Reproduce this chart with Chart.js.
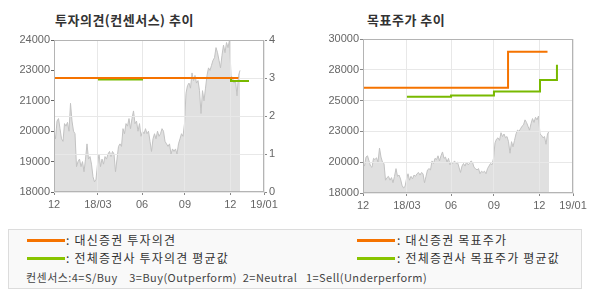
<!DOCTYPE html>
<html><head><meta charset="utf-8">
<script src="https://cdn.jsdelivr.net/npm/chart.js@4.4.1/dist/chart.umd.min.js"></script>
<style>
html,body{margin:0;padding:0;background:#fff;width:590px;height:300px;overflow:hidden;font-family:"Noto Sans CJK KR","Noto Sans",sans-serif;}
.title{position:absolute;top:11px;font-size:13px;font-weight:bold;color:#333;line-height:18px;white-space:nowrap;letter-spacing:0.5px;}
canvas{position:absolute;}
#legend{position:absolute;left:8px;top:229px;width:572px;height:58px;border:1px solid #dcdcdc;background:#f9f9f9;}
.bar{position:absolute;height:3px;width:38px;}
.lt{position:absolute;font-size:12px;color:#333;line-height:14px;white-space:pre;letter-spacing:1.2px;}
.cons{position:absolute;left:26px;top:270px;font-size:11px;color:#444;line-height:14px;white-space:pre;letter-spacing:0.45px;}
</style></head>
<body>
<div class="title" style="left:55px">투자의견(컨센서스) 추이</div>
<div class="title" style="left:367px">목표주가 추이</div>
<canvas id="c1" width="295" height="185" style="left:0;top:30px"></canvas>
<canvas id="c2" width="295" height="185" style="left:295px;top:30px"></canvas>
<div id="legend"></div>
<div class="bar" id="b1" style="left:27px;top:239px"></div>
<div class="lt" id="t1" style="left:66px;top:233px"></div>
<div class="bar" id="b2" style="left:27px;top:257px"></div>
<div class="lt" id="t2" style="left:66px;top:251px"></div>
<div class="bar" id="b3" style="left:357px;top:239px"></div>
<div class="lt" id="t3" style="left:397px;top:233px"></div>
<div class="bar" id="b4" style="left:357px;top:257px"></div>
<div class="lt" id="t4" style="left:397px;top:251px"></div>
<div class="cons" id="cons"></div>
<script>
// ---- data ----
const xTickPos = [0, 29.3, 58.7, 87.3, 117.5, 140];
const xTickLabels = ['12', '18/03', '06', '09', '12', '19/01'];
const priceTickLabelsL = ['18000', '19000', '20000', '21000', '23000', '24000'];
const priceTickLabelsR = ['18000', '20000', '23000', '25000', '28000', '30000'];
const opinionTicks = [0, 1, 2, 3, 4];
const prices = [20300,20100,20800,20900,20500,20100,20000,20700,20600,20750,20400,21500,20800,20400,20300,
  19000,19200,19300,19000,19200,18800,19300,19900,19300,19400,19100,18600,18400,18500,19100,19500,19000,
  19300,19100,19400,19300,19500,19600,19400,19600,19500,18800,19300,19800,19900,19800,20500,20300,20700,
  20600,20900,20500,20900,21200,20700,20800,20400,20700,20200,20400,20300,20500,20300,20400,20000,19600,
  20100,20300,20100,20400,20200,20300,20500,20400,20000,19900,19800,19900,19500,19700,19600,19700,19500,
  19900,20100,20300,20200,20700,21900,22200,22300,22100,22700,22400,22600,22300,22400,22000,21100,22000,
  21600,22100,22600,22900,22800,23000,23200,23300,23700,23500,23200,22900,23400,23800,23500,23900,23700,
  24000,22600,22500,22300,22400,21800,22600,22800];
// investment opinion (change points)
const daishinOpX = [0, 123];
const daishinOpY = [3, 3];
const consensusOpX = [29.3, 58.7, 118, 130];
const consensusOpY = [2.96, 3.0, 2.92, 2.92];
// target price (change points)
const daishinTpX = [0, 96.7, 123];
const daishinTpY = [26200, 29000, 29000];
const consensusTpX = [29.3, 58.7, 87.3, 118, 129.3];
const consensusTpY = [25500, 25600, 25900, 26800, 28000];
const legendTexts = [': 대신증권 투자의견', ': 전체증권사 투자의견 평균값', ': 대신증권 목표주가', ': 전체증권사 목표주가 평균값'];
const consensusNote = '컨센서스:4=S/Buy    3=Buy(Outperform)  2=Neutral   1=Sell(Underperform)';

const ORANGE = '#f57300', GREEN = '#78b900';
const GRID = '#e8e8e8', FRAME = '#b4b4b4', TICKC = '#666';
const tickFont = {family: 'Liberation Sans', size: 11};

const pts = (xs, ys) => xs.map((x, i) => ({x, y: ys[i]}));
const pricePts = prices.map((v, i) => ({x: i, y: v}));

const overlay = {
  id: 'overlay',
  afterDatasetDraw(chart, args) {
    if (args.index !== 0) return;
    Object.values(chart.scales).forEach(s => {
      if (s.options.grid.display && s.options.grid.drawOnChartArea) s.drawGrid(chart.chartArea);
    });
  },
  afterDraw(chart) {
    const {ctx, chartArea: a} = chart;
    ctx.save();
    ctx.strokeStyle = FRAME; ctx.lineWidth = 1;
    ctx.strokeRect(Math.round(a.left) + 0.5, Math.round(a.top) + 0.5,
      Math.round(a.right - a.left) - 1, Math.round(a.bottom - a.top) - 1);
    ctx.restore();
  }
};

function xScale(h) {
  return {
    type: 'linear', min: 0, max: 140,
    afterBuildTicks: s => { s.ticks = xTickPos.map(v => ({value: v})); },
    afterFit: s => { s.height = h; },
    ticks: {autoSkip: false, maxRotation: 0, padding: 3, color: TICKC, font: tickFont,
      callback: (v, i) => xTickLabels[i]},
    grid: {color: GRID, tickColor: '#888', tickLength: 3},
    border: {color: FRAME}
  };
}
function priceDs() {
  return {data: pricePts, borderColor: '#c2c2c2', backgroundColor: '#e0e0e0', borderWidth: 1,
    fill: 'start', pointRadius: 0, tension: 0, order: 2, yAxisID: 'y'};
}

new Chart(document.getElementById('c1'), {
  type: 'line',
  data: {datasets: [
    priceDs(),
    {data: pts(consensusOpX, consensusOpY), borderColor: GREEN, borderWidth: 2, stepped: true, pointRadius: 0, fill: false, order: 1, yAxisID: 'y2'},
    {data: pts(daishinOpX, daishinOpY), borderColor: ORANGE, borderWidth: 2, stepped: true, pointRadius: 0, fill: false, order: 0, yAxisID: 'y2'}
  ]},
  options: {
    responsive: false, animation: false, events: [],
    layout: {padding: {top: 10, left: 0, right: 0, bottom: 0}},
    plugins: {legend: {display: false}, tooltip: {enabled: false}},
    scales: {
      x: xScale(23),
      y: {type: 'linear', position: 'left', min: 18000, max: 24000,
        afterBuildTicks: s => { s.ticks = [18000, 19200, 20400, 21600, 22800, 24000].map(v => ({value: v})); },
        afterFit: s => { s.width = 54; },
        ticks: {padding: 1, color: TICKC, font: tickFont, callback: (v, i) => priceTickLabelsL[i]},
        grid: {drawOnChartArea: false, tickColor: '#666', tickLength: 3},
        border: {color: FRAME}},
      y2: {type: 'linear', position: 'right', min: 0, max: 4,
        afterBuildTicks: s => { s.ticks = opinionTicks.map(v => ({value: v})); },
        afterFit: s => { s.width = 31; },
        ticks: {padding: 2, color: TICKC, font: tickFont, callback: v => String(v)},
        grid: {color: GRID, tickColor: '#888', tickLength: 3},
        border: {color: FRAME}}
    }
  },
  plugins: [overlay]
});

new Chart(document.getElementById('c2'), {
  type: 'line',
  data: {datasets: [
    priceDs(),
    {data: pts(consensusTpX, consensusTpY), borderColor: GREEN, borderWidth: 2, stepped: true, pointRadius: 0, fill: false, order: 1},
    {data: pts(daishinTpX, daishinTpY), borderColor: ORANGE, borderWidth: 2, stepped: true, pointRadius: 0, fill: false, order: 0}
  ]},
  options: {
    responsive: false, animation: false, events: [],
    layout: {padding: {top: 9, left: 0, right: 17, bottom: 0}},
    plugins: {legend: {display: false}, tooltip: {enabled: false}},
    scales: {
      x: xScale(22),
      y: {type: 'linear', position: 'left', min: 18000, max: 30000,
        afterBuildTicks: s => { s.ticks = [18000, 20400, 22800, 25200, 27600, 30000].map(v => ({value: v})); },
        afterFit: s => { s.width = 68; },
        ticks: {padding: 1, color: TICKC, font: tickFont, callback: (v, i) => priceTickLabelsR[i]},
        grid: {color: GRID, tickColor: '#888', tickLength: 3},
        border: {color: FRAME}}
    }
  },
  plugins: [overlay]
});

// legend
['b1', 'b3'].forEach(id => document.getElementById(id).style.background = ORANGE);
['b2', 'b4'].forEach(id => document.getElementById(id).style.background = '#88c400');
['t1', 't2', 't3', 't4'].forEach((id, i) => document.getElementById(id).textContent = legendTexts[i]);
document.getElementById('cons').textContent = consensusNote;
</script>
</body></html>
